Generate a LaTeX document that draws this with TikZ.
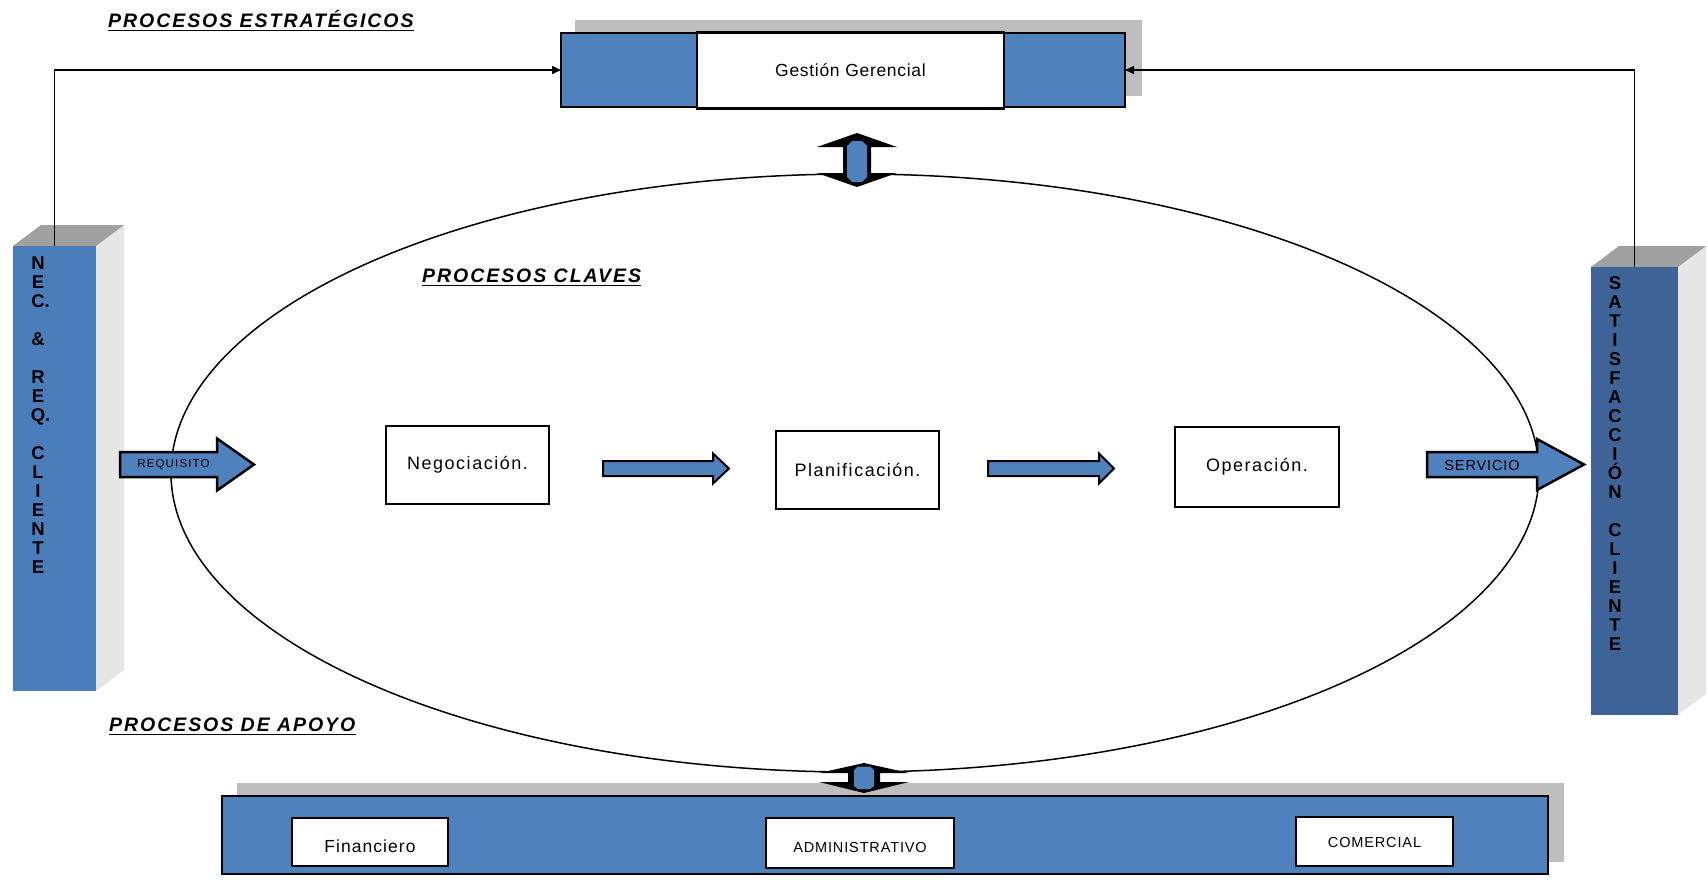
\documentclass[tikz,border=0pt]{standalone}
\usepackage{fontspec}
\setmainfont{Liberation Sans}
\usetikzlibrary{arrows.meta,calc}
\definecolor{boxblue}{HTML}{4F81BD}
\definecolor{pillarL}{HTML}{4A7DBA}
\definecolor{pillarR}{HTML}{3E6497}
\definecolor{topgray}{HTML}{A0A0A0}
\definecolor{sidegray}{HTML}{E6E6E6}
\definecolor{shadowgray}{HTML}{BEBEBE}
\newcommand\blkarrow[7]{\filldraw[#7] (#1,#4-#5) -- (#2,#4-#5) -- (#2,#4-#6) -- (#3,#4) -- (#2,#4+#6) -- (#2,#4+#5) -- (#1,#4+#5) -- cycle;}
\newcommand\dblarrow[7]{\fill[black] (#1,#2) -- (#1+#6,#3) -- (#1+#7,#3) -- (#1+#7,#4) -- (#1+#6,#4) -- (#1,#5) -- (#1-#6,#4) -- (#1-#7,#4) -- (#1-#7,#3) -- (#1-#6,#3) -- cycle;}
\begin{document}
\begin{tikzpicture}[x=1pt,y=-1pt,
  bluebox/.style={fill=boxblue, draw=black, line width=2.5pt, inner sep=0pt, outer sep=0pt},
  wbox/.style={draw=black, fill=white, line width=2.5pt, inner sep=0pt, outer sep=0pt},
  pbox/.style={draw=black, fill=white, line width=1.5pt, inner sep=0pt, outer sep=0pt},
  pillar/.style={inner sep=0pt, outer sep=0pt},
  bigarrow/.style={fill=boxblue, draw=black, line width=2.5pt, line join=miter},
  smallarrow/.style={fill=boxblue, draw=black, line width=2pt, line join=miter},
  conn/.style={line width=1.5pt, -{Triangle[length=9pt,width=8pt]}},
  ttl/.style={font={\fontsize{19.5}{22}\selectfont\bfseries\itshape\addfontfeatures{LetterSpace=10}}, anchor=base west, inner sep=0pt},
  ptext/.style={font={\fontsize{18.5}{19}\selectfont\bfseries}, align=center, inner sep=0pt},
  proctext/.style={font={\fontsize{18}{21}\selectfont\addfontfeatures{LetterSpace=8.5}}},
  smalltext/.style={font={\fontsize{14.5}{17}\selectfont\addfontfeatures{LetterSpace=6}}, inner sep=0pt},
  uline/.style={line width=1.8pt}
]
\useasboundingbox (0,0) rectangle (1708,879);
\fill[white] (0,0) rectangle (1708,879);

% titles
\node[ttl] (t1) at (108,27) {PROCESOS ESTRATÉGICOS};
\draw[uline] ($(t1.base west)+(0,3.5)$) -- ($(t1.base east)+(0,3.5)$);
\node[ttl] (t2) at (422,282) {PROCESOS CLAVES};
\draw[uline] ($(t2.base west)+(0,3.5)$) -- ($(t2.base east)+(0,3.5)$);
\node[ttl] (t3) at (109,731) {PROCESOS DE APOYO};
\draw[uline] ($(t3.base west)+(0,3.5)$) -- ($(t3.base east)+(0,3.5)$);

% top box
\fill[shadowgray] (575,20) rectangle (1142,96);
\node[bluebox, minimum width=564pt, minimum height=74pt] (gg) at (843,70) {};
\node[wbox, font={\fontsize{17.5}{20}\selectfont\addfontfeatures{LetterSpace=4}}, minimum width=307pt, minimum height=76pt] (ggw) at (850.5,70.5) {Gestión Gerencial};

% bottom box
\fill[shadowgray] (237,783) rectangle (1564,862);
\node[bluebox, minimum width=1326pt, minimum height=78pt] (bb) at (885,835) {};
\node[wbox, minimum width=156pt, minimum height=48pt] (fin) at (370,842) {};
\node[font={\fontsize{17.5}{20}\selectfont\addfontfeatures{LetterSpace=6}}, inner sep=0pt] (fint) at ($(fin.center)+(0,4)$) {Financiero};
\node[wbox, minimum width=188pt, minimum height=50pt] (adm) at (860,843) {};
\node[smalltext] (admt) at ($(adm.center)+(0,4)$) {ADMINISTRATIVO};
\node[wbox, minimum width=157pt, minimum height=49pt] (com) at (1374.5,841.5) {};
\node[smalltext] (comt) at ($(com.center)+(0,1)$) {COMERCIAL};

% pillars
\fill[sidegray] (96,246) -- (124,225) -- (124,670) -- (96,691) -- cycle;
\fill[topgray] (13,246) -- (41,225) -- (124,225) -- (96,246) -- cycle;
\node[pillar, fill=pillarL, minimum width=83pt, minimum height=445pt] (lp) at (54.5,468.5) {};
\node[ptext, anchor=north] (lpt) at (38,256.4) {N\\E\\C\rlap{.}\\[19pt]\&\\[19pt]R\\E\\Q\rlap{.}\\[19pt]C\\L\\I\\E\\N\\T\\E};

\fill[sidegray] (1678,267) -- (1706,246) -- (1706,694) -- (1678,715) -- cycle;
\fill[topgray] (1591,267) -- (1619,246) -- (1706,246) -- (1678,267) -- cycle;
\node[pillar, fill=pillarR, minimum width=87pt, minimum height=448pt] (rp) at (1634.5,491) {};
\node[ptext, anchor=north] (rpt) at (1615,276.4) {S\\A\\T\\I\\S\\F\\A\\C\\C\\I\\Ó\\N\\[19pt]C\\L\\I\\E\\N\\T\\E};

% connectors
\draw[conn] (lp.north) |- (gg.west);
\draw[conn] (rp.north) |- (gg.east);

% ellipse
\draw[line width=1.5pt] (855,473) ellipse [x radius=684pt, y radius=299pt];

% double arrows
\dblarrow{857}{133}{147}{173}{187}{40}{14}
\fill[boxblue] (847,146) -- (852,141) -- (862,141) -- (867,146) -- (867,177) -- (862,182) -- (852,182) -- (847,177) -- cycle;
\dblarrow{864}{763}{773}{782}{793}{45}{16}
\fill[boxblue] (854,770) -- (858,766.5) -- (870,766.5) -- (874,770) -- (874,786) -- (870,789) -- (858,789) -- (854,786) -- cycle;

% process boxes
\node[pbox, proctext, minimum width=163pt, minimum height=78pt] (neg) at (467.5,465) {Negociación.};
\node[pbox, proctext, minimum width=163pt, minimum height=78pt] (pla) at (857.5,470) {Planificación.};
\node[pbox, proctext, minimum width=164pt, minimum height=80pt] (ope) at (1257,467) {Operación.};

% block arrows
\blkarrow{120}{217}{254}{464.5}{12.5}{26}{bigarrow}
\node[font={\fontsize{11.5}{14}\selectfont\addfontfeatures{LetterSpace=10}}, inner sep=0pt] (req) at (173.5,465) {REQUISITO};
\blkarrow{1427}{1537}{1584}{464.5}{12.5}{25.5}{bigarrow}
\node[smalltext] (ser) at (1482,465) {SERVICIO};
\blkarrow{603}{713}{729}{468.5}{7.5}{15}{smallarrow}
\blkarrow{988}{1099}{1114}{468.5}{7.5}{15}{smallarrow}
\end{tikzpicture}
\end{document}
